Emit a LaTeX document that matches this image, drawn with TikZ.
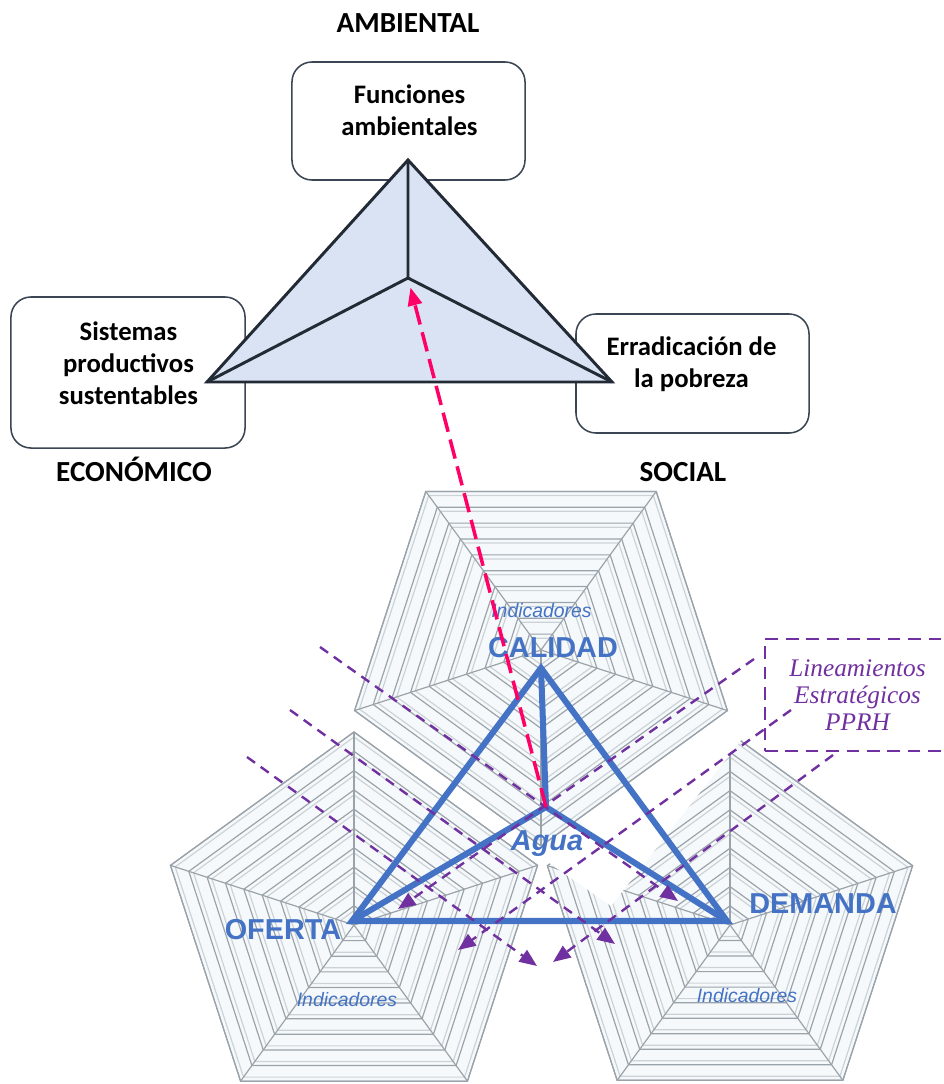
\documentclass[tikz,border=0pt]{standalone}
\usepackage{fontspec}
\setmainfont{Carlito}
\newfontfamily\arialf{Liberation Sans}
\newfontfamily\timesf{Liberation Serif}
\usetikzlibrary{arrows.meta}

\definecolor{navyline}{HTML}{222A35}
\definecolor{trifill}{HTML}{DAE3F3}
\definecolor{boxline}{HTML}{3B4654}
\definecolor{aguablue}{HTML}{4472C4}
\definecolor{pprhpurple}{HTML}{7030A0}
\definecolor{linkpink}{HTML}{FF0066}
\definecolor{webline}{RGB}{155,163,170}
\definecolor{webshade}{RGB}{204,211,215}
\definecolor{webfill}{RGB}{246,249,251}

\tikzset{
	dimbox/.style = {draw = boxline, line width = 1.1pt, rounded corners = 0.5cm, fill = white},
	dimtext/.style = {font = \fontsize{19}{22.8}\selectfont\bfseries, align = center, inner sep = 0pt},
	dimlabel/.style = {font = \fontsize{20.7}{24}\selectfont\bfseries, inner sep = 0pt, anchor = base},
	waterlabel/.style = {font = \arialf\fontsize{20.5}{24}\selectfont\bfseries, text = aguablue, inner sep = 0pt, anchor = base},
	indlabel/.style = {font = \arialf\fontsize{13.8}{15}\selectfont\itshape, text = aguablue, inner sep = 0pt, anchor = base},
	pprhbox/.style = {draw = pprhpurple, line width = 2pt, dash pattern = on 9pt off 5.5pt, align = center,
		font = \timesf\fontsize{18}{19.2}\selectfont\itshape, text = pprhpurple},
	pprhline/.style = {draw = pprhpurple, line width = 1.7pt, dash pattern = on 7pt off 5pt,
		-{Triangle[length = 12.5pt, width = 10pt]}},
	webring/.style = {draw = webline, line width = 0.85pt},
	webring2/.style = {draw = webshade, line width = 0.85pt}
}

% #1, #2 centre, #3 radius, #4 angle of the first corner
\newcommand{\radarweb}[4]{%
	\begin{scope}[shift = {(#1, #2)}]
		\filldraw[fill = webfill, draw = webline, line width = 0.85pt] (#4:#3) \foreach \a in {72, 144, 216, 288} {-- (#4+\a:#3)} -- cycle;
		\foreach \k [evaluate = \k as \rr using #3*\k/10] in {1, ..., 10} {
			\draw[webring2] (#4:\rr-5) \foreach \a in {72, 144, 216, 288} {-- (#4+\a:\rr-5)} -- cycle;
			\draw[webring] (#4:\rr) \foreach \a in {72, 144, 216, 288} {-- (#4+\a:\rr)} -- cycle;
		}
		\foreach \a in {0, 72, 144, 216, 288}
			\draw[webring] (0, 0) -- (#4+\a:#3);
	\end{scope}}

\begin{document}
\begin{tikzpicture}[x = 0.025cm, y = -0.025cm, line join = miter]
	
		\useasboundingbox (0, 0) rectangle (943, 1084);
		
		\radarweb{354}{925}{193}{54}
		\radarweb{730}{925}{192}{54}
		\fill[white] (532, 851) -- (611, 906) -- (760, 716) -- (727, 714) -- cycle;
		\radarweb{541}{650}{196}{18}
		
		\node[dimbox, minimum width = 5.825cm, minimum height = 2.95cm] (ambbox) at (408.5, 121) {};
		\node[dimbox, minimum width = 5.85cm, minimum height = 3.775cm] (ecobox) at (128, 372.5) {};
		\node[dimbox, minimum width = 5.825cm, minimum height = 2.975cm] (socbox) at (692.5, 373.5) {};
		
		\node[dimtext] (ambtext) at (409.5, 110) {Funciones\\ambientales};
		\node[dimtext] (ecotext) at (128.5, 363) {Sistemas\\productivos\\sustentables};
		\node[dimtext] (soctext) at (691.5, 364) {Erradicación de\\la pobreza};
		
		\coordinate (amb) at (408, 160);
		\coordinate (eco) at (207, 382);
		\coordinate (soc) at (612, 382);
		\coordinate (core) at (408, 278);
		
		\filldraw[draw = navyline, fill = trifill, line width = 2.1pt] (amb) -- (soc) -- (eco) -- cycle;
		\draw[navyline, line width = 2.1pt] (amb) -- (core) (eco) -- (core) -- (soc);
		
		\node[dimlabel] (ambname) at (408, 33) {AMBIENTAL};
		\node[dimlabel] (econame) at (134, 481) {ECONÓMICO};
		\node[dimlabel] (socname) at (683, 481) {SOCIAL};
		
		\coordinate (cal) at (541, 668);
		\coordinate (ofe) at (352, 921);
		\coordinate (dem) at (727, 921);
		\coordinate (agua) at (546, 807);
		
		\draw[aguablue, line width = 4.3pt] (cal) -- (dem) -- (ofe) -- cycle;
		\draw[aguablue, line width = 4.3pt] (cal) -- (agua) (ofe) -- (agua) -- (dem);
		
		\node[pprhbox, minimum width = 4.625cm, minimum height = 2.8cm] (pprh) at (857.5, 695) {Lineamientos\\Estratégicos\\PPRH};
		
		\coordinate (down1) at (320, 647);
		\coordinate (down1e) at (678, 901);
		\coordinate (down2) at (290, 710);
		\coordinate (down2e) at (615, 944);
		\coordinate (down3) at (247, 757);
		\coordinate (down3e) at (537, 966);
		\coordinate (up1) at (754, 659);
		\coordinate (up1e) at (398, 909);
		\coordinate (up2) at (791, 710);
		\coordinate (up2e) at (458, 950);
		\coordinate (up3) at (833, 755);
		\coordinate (up3e) at (553, 962);
		
		\draw[pprhline] (down1) -- (down1e);
		\draw[pprhline] (down2) -- (down2e);
		\draw[pprhline] (down3) -- (down3e);
		\draw[pprhline] (up1) -- (up1e);
		\draw[pprhline] (up2) -- (up2e);
		\draw[pprhline] (up3) -- (up3e);
		
		\node[waterlabel] (calname) at (553, 657) {CALIDAD};
		\node[waterlabel] (ofename) at (283, 939) {OFERTA};
		\node[waterlabel] (demname) at (823, 913) {DEMANDA};
		\node[waterlabel, font = \arialf\fontsize{20.5}{24}\selectfont\bfseries\itshape] (aguaname) at (547, 850) {Agua};
		
		\node[indlabel] (calind) at (541.5, 617) {Indicadores};
		\node[indlabel] (ofeind) at (347, 1006) {Indicadores};
		\node[indlabel] (demind) at (747, 1002) {Indicadores};
		
		\draw[linkpink, line width = 2.5pt, dash pattern = on 14pt off 5.7pt, shorten > = 7pt,
			-{Triangle[length = 12.8pt, width = 10pt]}] (agua) -- (core);
	
	\end{tikzpicture}
\end{document}
